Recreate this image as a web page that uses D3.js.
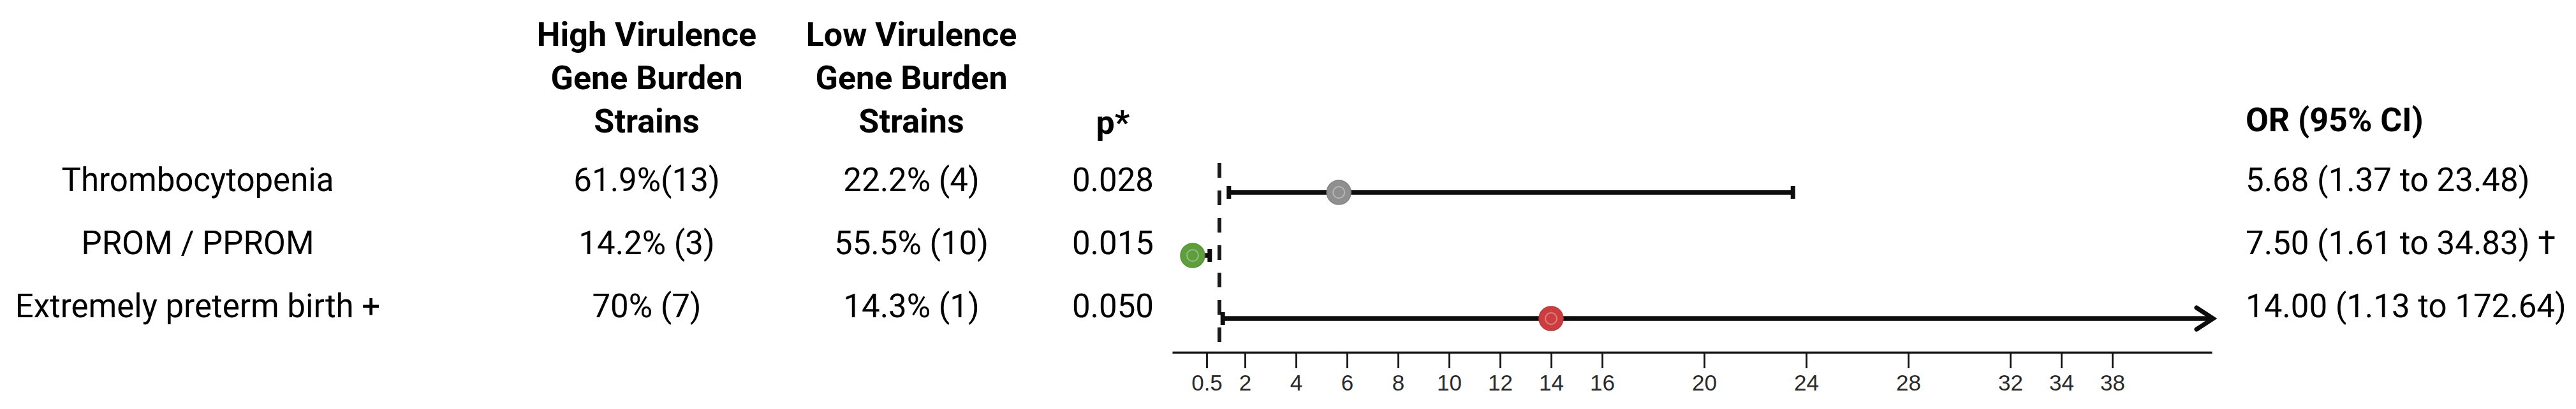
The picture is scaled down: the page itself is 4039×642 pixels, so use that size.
<!DOCTYPE html>
<html>
<head>
<meta charset="utf-8">
<script src="https://cdn.jsdelivr.net/npm/d3@7/dist/d3.min.js"></script>
<style>
  html, body { margin: 0; padding: 0; background: #ffffff; }
  svg { display: block; }
</style>
</head>
<body>
<svg id="chart" width="4039" height="642"></svg>
<script>
// ---------------- DATA ----------------
const outcomes = ["Thrombocytopenia", "PROM / PPROM", "Extremely preterm birth +"];
const highHeader = ["High Virulence", "Gene Burden", "Strains"];
const lowHeader = ["Low Virulence", "Gene Burden", "Strains"];
const pHeader = "p*";
const orHeader = "OR (95% CI)";
const highVirulence = ["61.9%(13)", "14.2% (3)", "70% (7)"];
const lowVirulence = ["22.2% (4)", "55.5% (10)", "14.3% (1)"];
const pValues = ["0.028", "0.015", "0.050"];
const orLabels = ["5.68 (1.37 to 23.48)", "7.50 (1.61 to 34.83) \u2020", "14.00 (1.13 to 172.64)"];
// values as plotted in the picture
const orPlotted = [5.68, -0.05, 14.00];
const ciLower = [1.37, -0.05, 1.13];
const ciUpper = [23.48, 0.62, 172.64];
const referenceValue = 1;
const tickValues = [0.5, 2, 4, 6, 8, 10, 12, 14, 16, 20, 24, 28, 32, 34, 36];
const tickLabels = ["0.5", "2", "4", "6", "8", "10", "12", "14", "16", "20", "24", "28", "32", "34", "38"];
const axisDomain = [-0.85, 39.9];

// ---------------- STYLE / LAYOUT ----------------
const pointColors = ["#8f8f8f", "#5f9e3c", "#cc3d40"];
const regularFont = "Roboto, 'Liberation Sans', sans-serif";
const boldFont = "Roboto, 'Liberation Sans', sans-serif";
const tickFont = "'Liberation Sans', Arial, sans-serif";

const svg = d3.select("#chart");
svg.append("rect").attr("width", 4039).attr("height", 642).attr("fill", "#fff");

const x = d3.scaleLinear().domain(axisDomain).range([1838, 3468]);
const y = d3.scalePoint().domain(outcomes).range([302, 500]);

const colCenters = { label: 310, high: 1014, low: 1429, p: 1745 };
const orX = 3521;
const headerBaselines = [72, 140, 208];

// Headers
const hdr = svg.append("g").attr("font-family", boldFont).attr("font-weight", 700)
  .attr("font-size", 52).attr("fill", "#000").attr("text-anchor", "middle");
hdr.selectAll("text.h1").data(highHeader).join("text")
  .attr("x", colCenters.high).attr("y", (d, i) => headerBaselines[i]).text(d => d);
hdr.selectAll("text.h2").data(lowHeader).join("text")
  .attr("x", colCenters.low).attr("y", (d, i) => headerBaselines[i]).text(d => d);
hdr.append("text").attr("x", colCenters.p).attr("y", 210).text(pHeader);
hdr.append("text").attr("x", orX).attr("y", 206).attr("text-anchor", "start").text(orHeader);

// Row texts
const rows = svg.append("g").attr("font-family", regularFont).attr("font-size", 51).attr("fill", "#000");
const base = d => y(d) - 2;
rows.selectAll("text.lbl").data(outcomes).join("text")
  .attr("x", colCenters.label).attr("y", d => base(d)).attr("text-anchor", "middle").text(d => d);
rows.selectAll("text.hv").data(highVirulence).join("text")
  .attr("x", colCenters.high).attr("y", (d, i) => base(outcomes[i])).attr("text-anchor", "middle").text(d => d);
rows.selectAll("text.lv").data(lowVirulence).join("text")
  .attr("x", colCenters.low).attr("y", (d, i) => base(outcomes[i])).attr("text-anchor", "middle").text(d => d);
rows.selectAll("text.pv").data(pValues).join("text")
  .attr("x", colCenters.p).attr("y", (d, i) => base(outcomes[i])).attr("text-anchor", "middle").text(d => d);
rows.selectAll("text.or").data(orLabels).join("text")
  .attr("x", orX).attr("y", (d, i) => base(outcomes[i])).attr("text-anchor", "start").text(d => d);

// Axis
const axisY = 553;
const axis = d3.axisBottom(x)
  .tickValues(tickValues)
  .tickFormat((d, i) => tickLabels[i])
  .tickSize(25)
  .tickSizeOuter(0)
  .tickPadding(10);
const ax = svg.append("g").attr("transform", `translate(0,${axisY})`).call(axis);
ax.select(".domain").attr("stroke", "#111").attr("stroke-width", 3.5);
ax.selectAll(".tick line").attr("stroke", "#111").attr("stroke-width", 2.8);
ax.selectAll(".tick text").attr("font-family", tickFont).attr("font-size", 35).attr("fill", "#2a2a2a");

// Reference dashed line
svg.append("line")
  .attr("x1", x(referenceValue)).attr("x2", x(referenceValue))
  .attr("y1", 256).attr("y2", 540)
  .attr("stroke", "#1a1a1a").attr("stroke-width", 6)
  .attr("stroke-dasharray", "23 20");

// CI lines
const [dMin, dMax] = axisDomain;
const forest = svg.append("g");
outcomes.forEach((o, i) => {
  const yy = y(o);
  const lo = Math.max(ciLower[i], dMin);
  const hi = Math.min(ciUpper[i], dMax);
  forest.append("line")
    .attr("x1", x(lo)).attr("x2", x(hi)).attr("y1", yy).attr("y2", yy)
    .attr("stroke", "#0d0d0d").attr("stroke-width", 7.5);
  if (ciLower[i] >= dMin) {
    forest.append("line")
      .attr("x1", x(lo)).attr("x2", x(lo)).attr("y1", yy - 10).attr("y2", yy + 10)
      .attr("stroke", "#0d0d0d").attr("stroke-width", 7);
  }
  if (ciUpper[i] <= dMax) {
    forest.append("line")
      .attr("x1", x(hi)).attr("x2", x(hi)).attr("y1", yy - 10).attr("y2", yy + 10)
      .attr("stroke", "#0d0d0d").attr("stroke-width", 7);
  } else {
    const tip = x(dMax) + 2;
    forest.append("path")
      .attr("d", `M${tip - 26},${yy - 17} L${tip},${yy} L${tip - 26},${yy + 17}`)
      .attr("fill", "none").attr("stroke", "#0d0d0d").attr("stroke-width", 7)
      .attr("stroke-linejoin", "miter").attr("stroke-linecap", "round");
  }
});

// Points
const pts = svg.append("g");
pts.selectAll("circle.pt").data(orPlotted).join("circle")
  .attr("cx", d => x(d)).attr("cy", (d, i) => y(outcomes[i]))
  .attr("r", 19).attr("fill", (d, i) => pointColors[i])
  .attr("stroke", (d, i) => d3.color(pointColors[i]).darker(0.25)).attr("stroke-width", 1.5);
pts.selectAll("circle.inner").data(orPlotted).join("circle")
  .attr("cx", d => x(d)).attr("cy", (d, i) => y(outcomes[i]))
  .attr("r", 9).attr("fill", "none")
  .attr("stroke", "rgba(255,255,255,0.35)").attr("stroke-width", 2);
</script>
</body>
</html>
